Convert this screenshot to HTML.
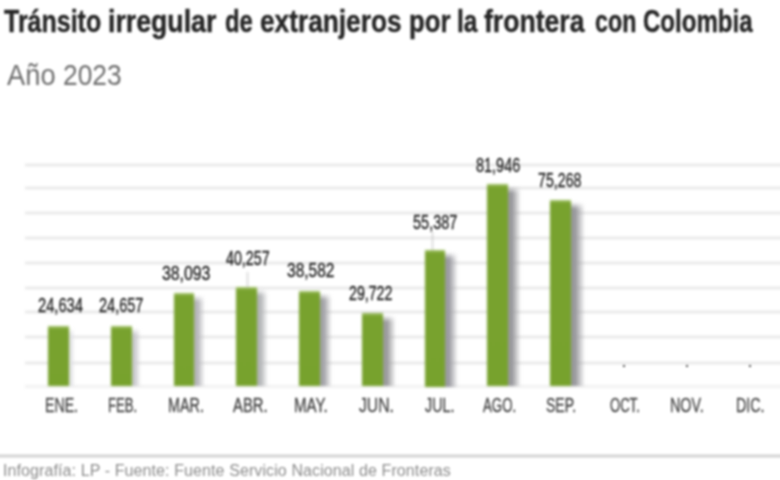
<!DOCTYPE html>
<html><head><meta charset="utf-8"><style>
html,body{margin:0;padding:0;background:#fff;}
#w{position:relative;width:780px;height:480px;overflow:hidden;background:#fff;font-family:"Liberation Sans",sans-serif;}
.t{position:absolute;top:5.96px;font-weight:bold;font-size:31px;line-height:31px;color:#262626;-webkit-text-stroke:0.4px #262626;white-space:nowrap;transform-origin:0 0;}
.s{position:absolute;top:60.41px;font-size:30px;line-height:30px;color:#6e6e6e;white-space:nowrap;transform-origin:0 0;}
.L{position:absolute;left:0;top:0;width:780px;height:480px;}
.g{position:absolute;left:25px;right:-3px;height:2px;background:#e0e0e0;}
.b{position:absolute;width:20.7px;background:linear-gradient(to bottom,#a4c46c 0,#8fb44f 1.5px,#78a22e 3.5px,#77a22d 100%);}
.sh{position:absolute;width:15px;background:linear-gradient(to right,#949499 0,#98989e 30%,rgba(185,185,190,0.75) 60%,rgba(255,255,255,0) 100%);-webkit-mask-image:linear-gradient(to bottom,transparent 0,#000 7px);mask-image:linear-gradient(to bottom,transparent 0,#000 7px);}
.v{position:absolute;transform-origin:0 0;font-size:20px;line-height:20px;color:#222;-webkit-text-stroke:0.35px #222;white-space:nowrap;}
.ld{position:absolute;width:1px;background:#bbb;}
.m{position:absolute;transform-origin:0 0;top:395.37px;font-size:20px;line-height:20px;color:#444;-webkit-text-stroke:0.3px #444;white-space:nowrap;}
.dot{position:absolute;width:2px;height:2px;background:#555;}
.fl{position:absolute;left:-4px;right:-4px;top:454.5px;height:2px;background:#bdbdbd;}
.f{position:absolute;transform-origin:0 0;top:462.76px;font-size:16px;line-height:16px;color:#8c8c8c;white-space:nowrap;letter-spacing:0.1px;}
</style></head><body><div id="w">
<div class="L" style="filter:blur(1.5px);">
<div class="g" style="top:384.90px;height:3px;background:#f1f1f1"></div><div class="g" style="top:361.60px"></div><div class="g" style="top:336.30px"></div><div class="g" style="top:310.80px"></div><div class="g" style="top:286.50px"></div><div class="g" style="top:262.30px"></div><div class="g" style="top:236.80px"></div><div class="g" style="top:211.50px"></div><div class="g" style="top:186.80px"></div><div class="g" style="top:163.60px"></div>
<div class="sh" style="left:69.05px;top:327.96px;height:58.54px;width:6px;background:linear-gradient(to right,#e0e0e4 0,#e0e0e4 30%,rgba(255,255,255,0) 100%)"></div><div class="b" style="left:48.35px;top:325.96px;height:60.54px"></div><div class="sh" style="left:131.75px;top:327.90px;height:58.60px;width:9px;background:linear-gradient(to right,#c8c8cc 0,#c8c8cc 30%,rgba(255,255,255,0) 100%)"></div><div class="b" style="left:111.05px;top:325.90px;height:60.60px"></div><div class="sh" style="left:194.45px;top:294.61px;height:91.89px;width:11px;background:linear-gradient(to right,#b4b4b8 0,#b4b4b8 30%,rgba(255,255,255,0) 100%)"></div><div class="b" style="left:173.75px;top:292.61px;height:93.89px"></div><div class="sh" style="left:257.15px;top:289.24px;height:97.26px;width:11px;background:linear-gradient(to right,#b2b4b6 0,#b2b4b6 30%,rgba(255,255,255,0) 100%)"></div><div class="b" style="left:236.45px;top:287.24px;height:99.26px"></div><div class="sh" style="left:319.85px;top:293.39px;height:93.11px;width:12px;background:linear-gradient(to right,#a2a2a6 0,#a2a2a6 30%,rgba(255,255,255,0) 100%)"></div><div class="b" style="left:299.15px;top:291.39px;height:95.11px"></div><div class="sh" style="left:382.55px;top:315.35px;height:71.15px;width:13px;background:linear-gradient(to right,#9a9a9c 0,#9a9a9c 30%,rgba(255,255,255,0) 100%)"></div><div class="b" style="left:361.85px;top:313.35px;height:73.15px"></div><div class="sh" style="left:445.25px;top:251.75px;height:134.75px;width:13px;background:linear-gradient(to right,#9a9aa0 0,#9a9aa0 30%,rgba(255,255,255,0) 100%)"></div><div class="b" style="left:424.55px;top:249.75px;height:136.75px"></div><div class="sh" style="left:507.95px;top:185.94px;height:200.56px;width:13px;background:linear-gradient(to right,#98989c 0,#98989c 30%,rgba(255,255,255,0) 100%)"></div><div class="b" style="left:487.25px;top:183.94px;height:202.56px"></div><div class="sh" style="left:570.65px;top:202.49px;height:184.01px;width:14px;background:linear-gradient(to right,#98989c 0,#98989c 30%,rgba(255,255,255,0) 100%)"></div><div class="b" style="left:549.95px;top:200.49px;height:186.01px"></div><div class="ld" style="left:247.0px;top:271.5px;height:16.0px"></div><div class="ld" style="left:432.0px;top:232px;height:18px"></div>
<div class="fl"></div>
</div>
<div class="L" style="filter:blur(1px);">
<div class="t" style="left:4.30px;transform:scaleX(0.8058)">Tránsito</div><div class="t" style="left:107.98px;transform:scaleX(0.8613)">irregular</div><div class="t" style="left:225.13px;transform:scaleX(0.7706)">de</div><div class="t" style="left:260.45px;transform:scaleX(0.8467)">extranjeros</div><div class="t" style="left:408.84px;transform:scaleX(0.8292)">por</div><div class="t" style="left:456.62px;transform:scaleX(0.7917)">la</div><div class="t" style="left:484.30px;transform:scaleX(0.8576)">frontera</div><div class="t" style="left:595.15px;transform:scaleX(0.7500)">con</div><div class="t" style="left:643.32px;transform:scaleX(0.7759)">Colombia</div>
<div class="s" style="left:7.20px;transform:scaleX(0.9096)">Año</div><div class="s" style="left:62.92px;transform:scaleX(0.8785)">2023</div>
<div class="v" style="left:37.66px;top:295.37px;transform:scaleX(0.7350)">24,634</div><div class="v" style="left:98.67px;top:295.37px;transform:scaleX(0.7267)">24,657</div><div class="v" style="left:162.31px;top:263.27px;transform:scaleX(0.7917)">38,093</div><div class="v" style="left:226.30px;top:247.67px;transform:scaleX(0.7131)">40,257</div><div class="v" style="left:287.32px;top:260.37px;transform:scaleX(0.7767)">38,582</div><div class="v" style="left:349.49px;top:282.57px;transform:scaleX(0.7083)">29,722</div><div class="v" style="left:412.88px;top:211.97px;transform:scaleX(0.7250)">55,387</div><div class="v" style="left:476.08px;top:154.77px;transform:scaleX(0.7233)">81,946</div><div class="v" style="left:537.59px;top:170.17px;transform:scaleX(0.7100)">75,268</div><div class="dot" style="left:623.2px;top:365.3px"></div><div class="dot" style="left:686.2px;top:365.3px"></div><div class="dot" style="left:749.0px;top:365.3px"></div>
<div class="m" style="left:44.89px;transform:scaleX(0.7068)">ENE.</div><div class="m" style="left:108.44px;transform:scaleX(0.6571)">FEB.</div><div class="m" style="left:168.38px;transform:scaleX(0.7188)">MAR.</div><div class="m" style="left:233.30px;transform:scaleX(0.7422)">ABR.</div><div class="m" style="left:293.65px;transform:scaleX(0.7524)">MAY.</div><div class="m" style="left:358.60px;transform:scaleX(0.7860)">JUN.</div><div class="m" style="left:424.60px;transform:scaleX(0.7150)">JUL.</div><div class="m" style="left:483.20px;transform:scaleX(0.6653)">AGO.</div><div class="m" style="left:545.90px;transform:scaleX(0.7024)">SEP.</div><div class="m" style="left:610.35px;transform:scaleX(0.6535)">OCT.</div><div class="m" style="left:670.28px;transform:scaleX(0.7156)">NOV.</div><div class="m" style="left:735.89px;transform:scaleX(0.7132)">DIC.</div>
<div class="f" style="left:3px">Infografía: LP - Fuente: Fuente Servicio Nacional de Fronteras</div>
</div>
</div></body></html>
